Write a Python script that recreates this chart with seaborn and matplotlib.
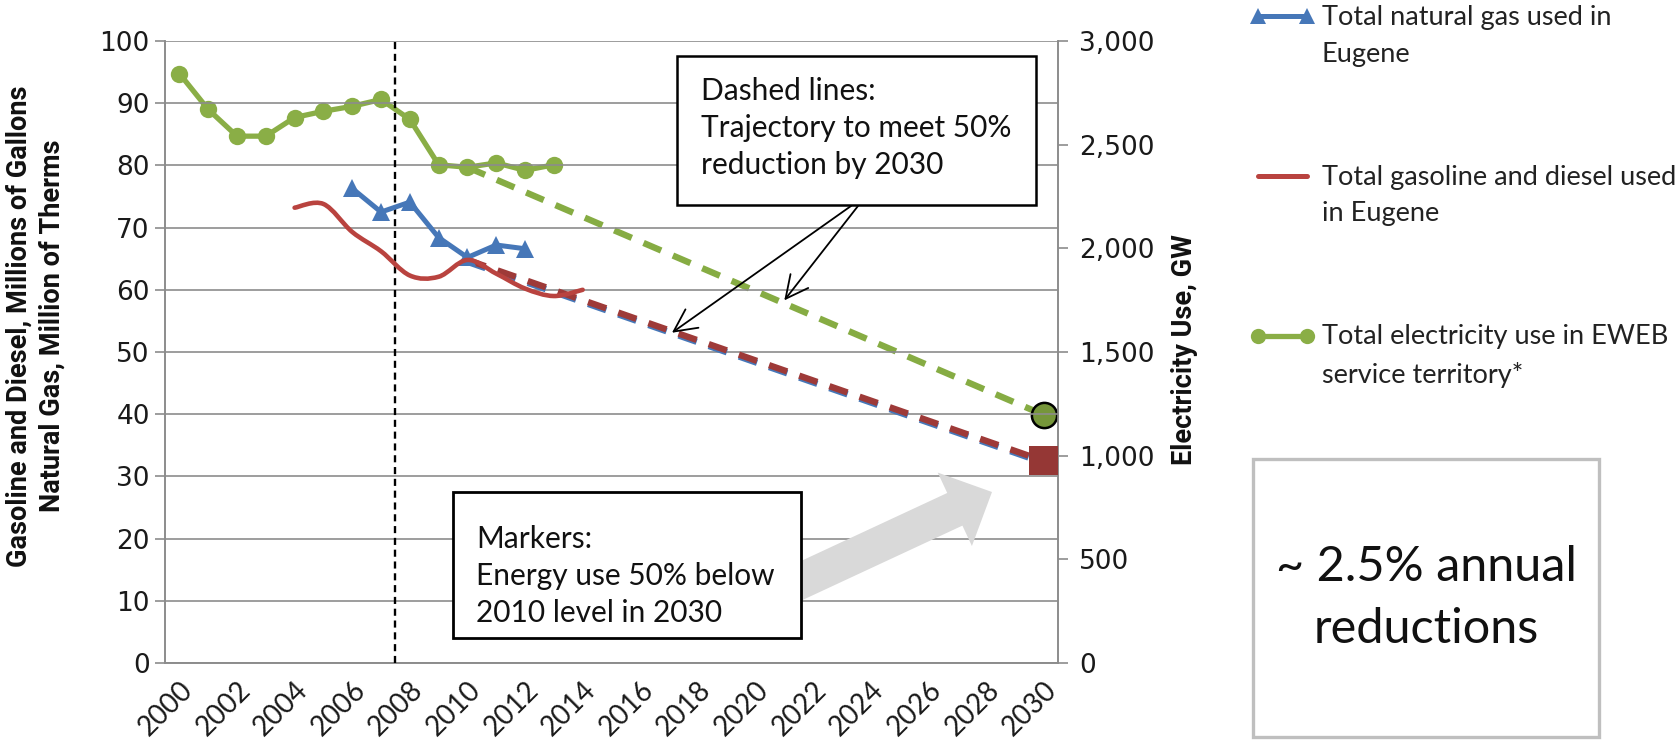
import numpy as np
import seaborn as sns
import matplotlib.pyplot as plt
from matplotlib.path import Path
from matplotlib.patches import PathPatch, Rectangle, FancyArrow
from matplotlib.lines import Line2D
from matplotlib.legend_handler import HandlerLine2D
from matplotlib.ticker import FuncFormatter, MultipleLocator

# electricity use in EWEB territory, GW (right axis)
elec_years = list(range(2000, 2014))
elec_gw = [2843, 2670, 2541, 2541, 2631, 2661, 2685, 2718, 2622, 2403, 2391, 2412, 2376, 2403]

# natural gas, million therms (left axis)
gas_years = list(range(2006, 2013))
gas_therms = [76.3, 72.5, 74.1, 68.4, 65.2, 67.2, 66.6]

# gasoline and diesel, million gallons (left axis)
fuel_years = list(range(2004, 2015))
fuel_gallons = [73.2, 73.8, 69.3, 66.2, 62.3, 62.1, 64.8, 62.6, 60.2, 59.0, 60.0]

# trajectories: 2010 level -> 50% of it in 2030
target_years = [2010, 2030]
elec_target = [2391, 1197]
gas_target = [64.5, 32.2]
fuel_target = [64.8, 32.5]

year_labels = list(range(2000, 2031, 2))
split_year = 2007.5

GREEN = '#8AAE46'
BLUE = '#4677B8'
RED = '#B9433F'
DRED = '#9E3A38'
GRID = '#8C8C8C'

sns.set_style('white')
plt.rcParams['font.family'] = ['Lato', 'DejaVu Sans']

fig = plt.figure(figsize=(16.75, 7.48), dpi=100)
ax = fig.add_axes([0.0985, 0.1136, 0.5331, 0.8316])
ax2 = ax.twinx()

dash = (0, (3.0, 2.0))
# dashed trajectories
sns.lineplot(x=target_years, y=elec_target, ax=ax2, color='#86AC43', lw=4.6,
             linestyle=dash, zorder=2)
sns.lineplot(x=target_years, y=gas_target, ax=ax, color=BLUE, lw=4.6,
             linestyle=dash, zorder=2)
sns.lineplot(x=target_years, y=fuel_target, ax=ax, color=DRED, lw=4.6,
             linestyle=dash, zorder=2)

# 2030 markers
sns.scatterplot(x=[target_years[1]], y=[elec_target[1]], ax=ax2, color='#76963A',
                s=330, edgecolor='black', linewidth=1.8, zorder=6, clip_on=False)
sns.scatterplot(x=[target_years[1]], y=[fuel_target[1]], ax=ax, color='#953735',
                marker='s', s=430, edgecolor='none', zorder=6, clip_on=False)

# measured series
sns.lineplot(x=elec_years, y=elec_gw, ax=ax2, color=GREEN, lw=3.8, marker='o',
             markersize=12.5, markeredgewidth=0, zorder=5)
sns.lineplot(x=gas_years, y=gas_therms, ax=ax, color=BLUE, lw=3.6, marker='^',
             markersize=13, markeredgewidth=0, zorder=4)

# gasoline/diesel drawn as a smoothed curve through the yearly points
pts = np.column_stack([fuel_years, fuel_gallons]).astype(float)
ext = np.vstack([pts[0], pts, pts[-1]])
verts, codes = [pts[0]], [Path.MOVETO]
for i in range(len(pts) - 1):
    p0, p1, p2, p3 = ext[i], ext[i + 1], ext[i + 2], ext[i + 3]
    verts += [p1 + (p2 - p0) / 6, p2 - (p3 - p1) / 6, p2]
    codes += [Path.CURVE4] * 3
ax.add_patch(PathPatch(Path(verts, codes), fill=False, edgecolor=RED, lw=3.3,
                       capstyle='round', zorder=5))

ax.axvline(split_year, color='black', lw=1.7, ls=(0, (3, 2)), zorder=3)

# axes
ax.set_xlim(1999.5, 2030.5)
ax.set_ylim(0, 100)
ax2.set_ylim(0, 3000)
ax.set_zorder(ax2.get_zorder() + 1)
ax.patch.set_visible(False)

ax.set_xticks(year_labels)
ax.set_xticklabels([str(y) for y in year_labels], rotation=45, ha='right',
                   rotation_mode='anchor', fontsize=20, color='#1a1a1a')
ax.xaxis.set_minor_locator(MultipleLocator(1, offset=0.5))
ax.tick_params(axis='x', which='major', length=0, pad=10)
ax.tick_params(axis='x', which='minor', length=9, width=1.2, color=GRID, direction='out')
ax.set_yticks(range(0, 101, 10))
ax.tick_params(axis='y', length=7, width=1.2, color=GRID, direction='out',
               labelsize=19, labelcolor='#1a1a1a', pad=4)
for lab in ax.get_yticklabels():
    lab.set_fontfamily('DejaVu Sans')

ax2.set_yticks(range(0, 3001, 500))
ax2.yaxis.set_major_formatter(FuncFormatter(lambda v, p: f'{v:,.0f}'))
ax2.tick_params(axis='y', length=7, width=1.2, color=GRID, direction='out',
                labelsize=19, labelcolor='#1a1a1a', pad=8)
for lab in ax2.get_yticklabels():
    lab.set_fontfamily('DejaVu Sans')

ax.grid(axis='y', color=GRID, lw=1.2)
ax.grid(axis='x', visible=False)
ax2.grid(False)
for a in (ax, ax2):
    for side in ('left', 'right', 'bottom'):
        a.spines[side].set_color(GRID)
        a.spines[side].set_linewidth(1.2)
    a.spines['top'].set_visible(False)
ax.set_xlabel('')
ax.set_ylabel('')
ax2.set_ylabel('')

fig.text(36 / 1675, 1 - 326 / 748,
         'Gasoline and Diesel, Millions of Gallons\nNatural Gas, Million of Therms',
         rotation=90, ha='center', va='center', ma='center', fontsize=19.5,
         fontweight='bold', family='Roboto', color='#111111', linespacing=1.28)
fig.text(1184 / 1675, 1 - 350 / 748, 'Electricity Use, GW', rotation=90,
         ha='center', va='center', fontsize=19.5, fontweight='bold', family='Roboto',
         color='#111111')


class FirstLineHandler(HandlerLine2D):
    def create_artists(self, legend, orig_handle, xdescent, ydescent, width,
                       height, fontsize, trans):
        arts = super().create_artists(legend, orig_handle, xdescent, ydescent,
                                      width, height, fontsize, trans)
        for a in arts:
            a.set_ydata(np.asarray(a.get_ydata(), float) + 0.74 * fontsize)
        return arts


handles = [
    Line2D([], [], color=BLUE, lw=3.6, marker='^', markersize=12, markeredgewidth=0),
    Line2D([], [], color=RED, lw=3.6),
    Line2D([], [], color=GREEN, lw=3.8, marker='o', markersize=11, markeredgewidth=0),
]
labels = ['Total natural gas used in\nEugene',
          'Total gasoline and diesel used\nin Eugene',
          'Total electricity use in EWEB\nservice territory*']
leg = fig.legend(handles, labels, loc='upper left',
                 bbox_to_anchor=(1250 / 1675, 1 - 5 / 748), frameon=False,
                 fontsize=19.5, handlelength=2.4, handletextpad=0.25,
                 labelspacing=3.6, borderpad=0, borderaxespad=0,
                 handler_map={Line2D: FirstLineHandler(numpoints=2)})
for t in leg.get_texts():
    t.set_color('#222222')
    t.set_linespacing(1.6)

# annotation layer in pixel coordinates
ov = fig.add_axes([0, 0, 1, 1], zorder=10)
ov.set_xlim(0, 1675)
ov.set_ylim(748, 0)
ov.axis('off')
ov.patch.set_visible(False)

ov.add_patch(Rectangle((677, 56), 359, 149, facecolor='white', edgecolor='black',
                       lw=1.8, zorder=2))
ov.text(701, 128, 'Dashed lines:\nTrajectory to meet 50%\nreduction by 2030',
        ha='left', va='center', fontsize=21.5, color='#111111', linespacing=1.4, zorder=3)
for start, target in [((851, 206), (2017.1, 53.1)), ((858, 206), (2021.0, 58.3))]:
    ov.annotate('', xy=target, xycoords=ax.transData, xytext=start,
                textcoords='data',
                arrowprops=dict(arrowstyle='->,head_length=0.9,head_width=0.45',
                                color='black', lw=1.3, shrinkA=0, shrinkB=0,
                                mutation_scale=18), zorder=3)

ov.add_patch(FancyArrow(790, 586, 202, -94, width=36, head_width=81, head_length=41,
                        length_includes_head=True, facecolor='#D9D9D9',
                        edgecolor='none', zorder=1))
ov.add_patch(Rectangle((453, 492), 348, 146, facecolor='white', edgecolor='black',
                       lw=2.0, zorder=2))
ov.text(476, 576, 'Markers:\nEnergy use 50% below\n2010 level in 2030',
        ha='left', va='center', fontsize=21.5, color='#111111', linespacing=1.4, zorder=3)

ov.add_patch(Rectangle((1253, 459), 346, 278, facecolor='white', edgecolor='#BFBFBF',
                       lw=2.4, zorder=2))
ov.text(1426, 598, '~ 2.5% annual\nreductions', ha='center', va='center',
        fontsize=35, color='#111111', linespacing=1.5, zorder=3)

fig.savefig('out.png', dpi=100)
